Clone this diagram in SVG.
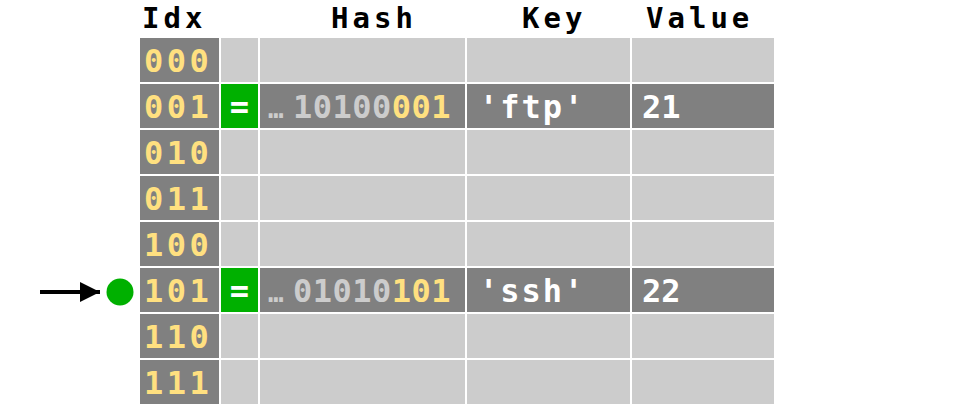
<svg xmlns="http://www.w3.org/2000/svg" width="960" height="406" viewBox="0 0 960 406">
<style>
text{font-family:"DejaVu Sans Mono","Liberation Mono",monospace;font-weight:bold}
.hd{font-size:29px;fill:#000;letter-spacing:4px}
.dk{fill:#808080}
.lt{fill:#cccccc}
.gr{fill:#00b000}
.idx{font-size:32px;fill:#ffe080;letter-spacing:3.5px}
.hs{font-size:32px;fill:#cccccc;letter-spacing:0.5px}
.y{fill:#ffe080}
.w{font-size:32px;fill:#ffffff;letter-spacing:2px}
.eq{font-size:32px;fill:#ffffff;text-anchor:middle}
.el{font-size:26px;fill:#cccccc;letter-spacing:0}
</style>
<defs>
<marker id="ah" viewBox="0 0 10 10" refX="10" refY="5" markerWidth="5" markerHeight="5" orient="auto" markerUnits="strokeWidth"><path d="M0,0 L10,5 L0,10 z" fill="#000"/></marker>
</defs>
<g id="headers">
<text class="hd" x="142" y="28">Idx</text>
<text class="hd" x="331" y="28">Hash</text>
<text class="hd" x="522" y="28">Key</text>
<text class="hd" x="646" y="28">Value</text>
</g>
<g id="row0"><rect class="dk" x="140" y="38" width="79" height="44"/><rect class="lt" x="221" y="38" width="37" height="44"/><rect class="lt" x="260" y="38" width="205" height="44"/><rect class="lt" x="467" y="38" width="163" height="44"/><rect class="lt" x="632" y="38" width="142" height="44"/><text class="idx" x="144" y="72">000</text></g>
<g id="row1"><rect class="dk" x="140" y="84" width="79" height="44"/><rect class="gr" x="221" y="84" width="37" height="44"/><rect class="dk" x="260" y="84" width="205" height="44"/><rect class="dk" x="467" y="84" width="163" height="44"/><rect class="dk" x="632" y="84" width="142" height="44"/><text class="idx" x="144" y="118">001</text><text class="eq" x="239.5" y="118">=</text><text class="el" x="268" y="118">…</text><text class="hs" x="293" y="118">10100<tspan class="y">001</tspan></text><text class="w" x="479" y="118">'ftp'</text><text class="w" x="642" y="118" style="letter-spacing:0">21</text></g>
<g id="row2"><rect class="dk" x="140" y="130" width="79" height="44"/><rect class="lt" x="221" y="130" width="37" height="44"/><rect class="lt" x="260" y="130" width="205" height="44"/><rect class="lt" x="467" y="130" width="163" height="44"/><rect class="lt" x="632" y="130" width="142" height="44"/><text class="idx" x="144" y="164">010</text></g>
<g id="row3"><rect class="dk" x="140" y="176" width="79" height="44"/><rect class="lt" x="221" y="176" width="37" height="44"/><rect class="lt" x="260" y="176" width="205" height="44"/><rect class="lt" x="467" y="176" width="163" height="44"/><rect class="lt" x="632" y="176" width="142" height="44"/><text class="idx" x="144" y="210">011</text></g>
<g id="row4"><rect class="dk" x="140" y="222" width="79" height="44"/><rect class="lt" x="221" y="222" width="37" height="44"/><rect class="lt" x="260" y="222" width="205" height="44"/><rect class="lt" x="467" y="222" width="163" height="44"/><rect class="lt" x="632" y="222" width="142" height="44"/><text class="idx" x="144" y="256">100</text></g>
<g id="row5"><rect class="dk" x="140" y="268" width="79" height="44"/><rect class="gr" x="221" y="268" width="37" height="44"/><rect class="dk" x="260" y="268" width="205" height="44"/><rect class="dk" x="467" y="268" width="163" height="44"/><rect class="dk" x="632" y="268" width="142" height="44"/><text class="idx" x="144" y="302">101</text><text class="eq" x="239.5" y="302">=</text><text class="el" x="268" y="302">…</text><text class="hs" x="293" y="302">01010<tspan class="y">101</tspan></text><text class="w" x="479" y="302">'ssh'</text><text class="w" x="642" y="302" style="letter-spacing:0">22</text></g>
<g id="row6"><rect class="dk" x="140" y="314" width="79" height="44"/><rect class="lt" x="221" y="314" width="37" height="44"/><rect class="lt" x="260" y="314" width="205" height="44"/><rect class="lt" x="467" y="314" width="163" height="44"/><rect class="lt" x="632" y="314" width="142" height="44"/><text class="idx" x="144" y="348">110</text></g>
<g id="row7"><rect class="dk" x="140" y="360" width="79" height="44"/><rect class="lt" x="221" y="360" width="37" height="44"/><rect class="lt" x="260" y="360" width="205" height="44"/><rect class="lt" x="467" y="360" width="163" height="44"/><rect class="lt" x="632" y="360" width="142" height="44"/><text class="idx" x="144" y="394">111</text></g>
<g id="pointer"><circle cx="120" cy="292" r="13.5" fill="#00b000"/></g>
<g id="connectors"><line x1="40" y1="292" x2="100" y2="292" stroke="#000" stroke-width="4" marker-end="url(#ah)"/></g>
</svg>
